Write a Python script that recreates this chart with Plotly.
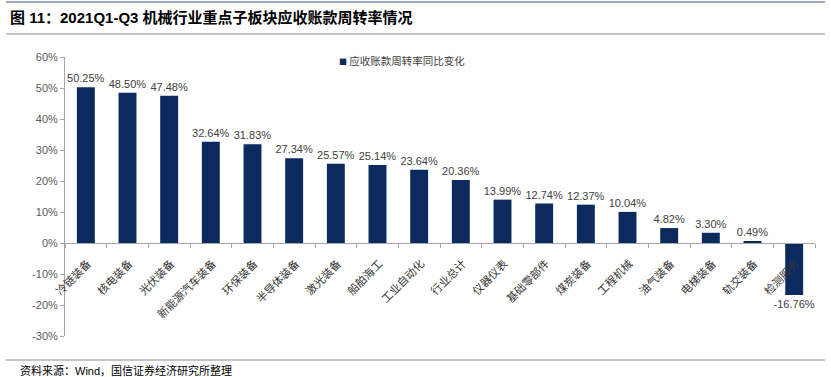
import plotly.graph_objects as go

categories = ["冷链装备", "核电装备", "光伏装备", "新能源汽车装备", "环保装备", "半导体装备",
              "激光装备", "船舶海工", "工业自动化", "行业总计", "仪器仪表", "基础零部件",
              "煤炭装备", "工程机械", "油气装备", "电梯装备", "轨交装备", "检测服务"]
values = [50.25, 48.50, 47.48, 32.64, 31.83, 27.34, 25.57, 25.14, 23.64, 20.36,
          13.99, 12.74, 12.37, 10.04, 4.82, 3.30, 0.49, -16.76]
y_ticks = [60, 50, 40, 30, 20, 10, 0, -10, -20, -30]
series_name = "应收账款周转率同比变化"
bar_color = "#0B2B5E"

W, H = 831, 377
ml, mr, mt, mb = 65, 16, 57, 41
pw, ph = W - ml - mr, H - mt - mb

def px_x(x):
    return (x - ml) / pw

def px_y(y):
    return (H - mb - y) / ph

fig = go.Figure()
fig.add_trace(go.Bar(
    x=categories, y=values, name=series_name,
    marker=dict(color=bar_color, line=dict(width=0)),
    width=0.43,
    text=[f"{v:.2f}%" for v in values],
    textposition="outside", cliponaxis=False, constraintext="none",
    textfont=dict(family="Liberation Sans, Arial", size=11, color="#404040"),
    showlegend=False,
))

ymin, ymax = -30, 60
fig.update_layout(
    width=W, height=H,
    margin=dict(l=ml, r=mr, t=mt, b=mb),
    paper_bgcolor="white", plot_bgcolor="white",
    showlegend=False,
    bargap=0.5,
    xaxis=dict(
        anchor="free", position=(0 - ymin) / (ymax - ymin),
        showline=True, linecolor="#A6A6A6", linewidth=1,
        ticks="outside", tickson="boundaries", ticklen=4, tickcolor="#A6A6A6",
        tickangle=-45, ticklabelshift=2, ticklabelstandoff=9,
        tickfont=dict(family="Noto Sans CJK SC", size=11, color="#333333"),
        showgrid=False, range=[-0.5, len(categories) - 0.5],
    ),
    yaxis=dict(
        range=[ymin, ymax], tickvals=y_ticks, ticktext=[f"{t}%" for t in y_ticks],
        showline=True, linecolor="#A6A6A6", linewidth=1,
        ticks="outside", ticklen=4, tickcolor="#A6A6A6",
        tickfont=dict(family="Liberation Sans, Arial", size=11, color="#595959"),
        showgrid=False, zeroline=False,
    ),
    shapes=[
        dict(type="line", xref="paper", yref="paper", x0=px_x(6), x1=px_x(825),
             y0=px_y(2), y1=px_y(2), line=dict(color="#7F8FA6", width=1.5)),
        dict(type="line", xref="paper", yref="paper", x0=px_x(6), x1=px_x(825),
             y0=px_y(34), y1=px_y(34), line=dict(color="#8C8C8C", width=1)),
        dict(type="line", xref="paper", yref="paper", x0=px_x(6), x1=px_x(825),
             y0=px_y(360), y1=px_y(360), line=dict(color="#8C8C8C", width=1)),
    ],
    annotations=[
        dict(text="<b>图 11：2021Q1-Q3 机械行业重点子板块应收账款周转率情况</b>",
             xref="paper", yref="paper", x=px_x(8), y=px_y(18),
             xanchor="left", yanchor="middle", showarrow=False,
             font=dict(family="Liberation Sans, Noto Sans CJK SC", size=15, color="#000000")),
        dict(text="资料来源：Wind，国信证券经济研究所整理",
             xref="paper", yref="paper", x=px_x(18), y=px_y(370),
             xanchor="left", yanchor="middle", showarrow=False,
             font=dict(family="Liberation Sans, Noto Sans CJK SC", size=11, color="#000000")),
        dict(text=f"<span style='color:{bar_color};font-size:8px'>■</span> {series_name}",
             xref="paper", yref="paper", x=px_x(337), y=px_y(60),
             xanchor="left", yanchor="middle", showarrow=False,
             font=dict(family="Noto Sans CJK SC", size=10.5, color="#404040")),
    ],
)

fig.write_html("out.html", post_script="document.body.style.margin='0px';",
               config={"displayModeBar": False})
